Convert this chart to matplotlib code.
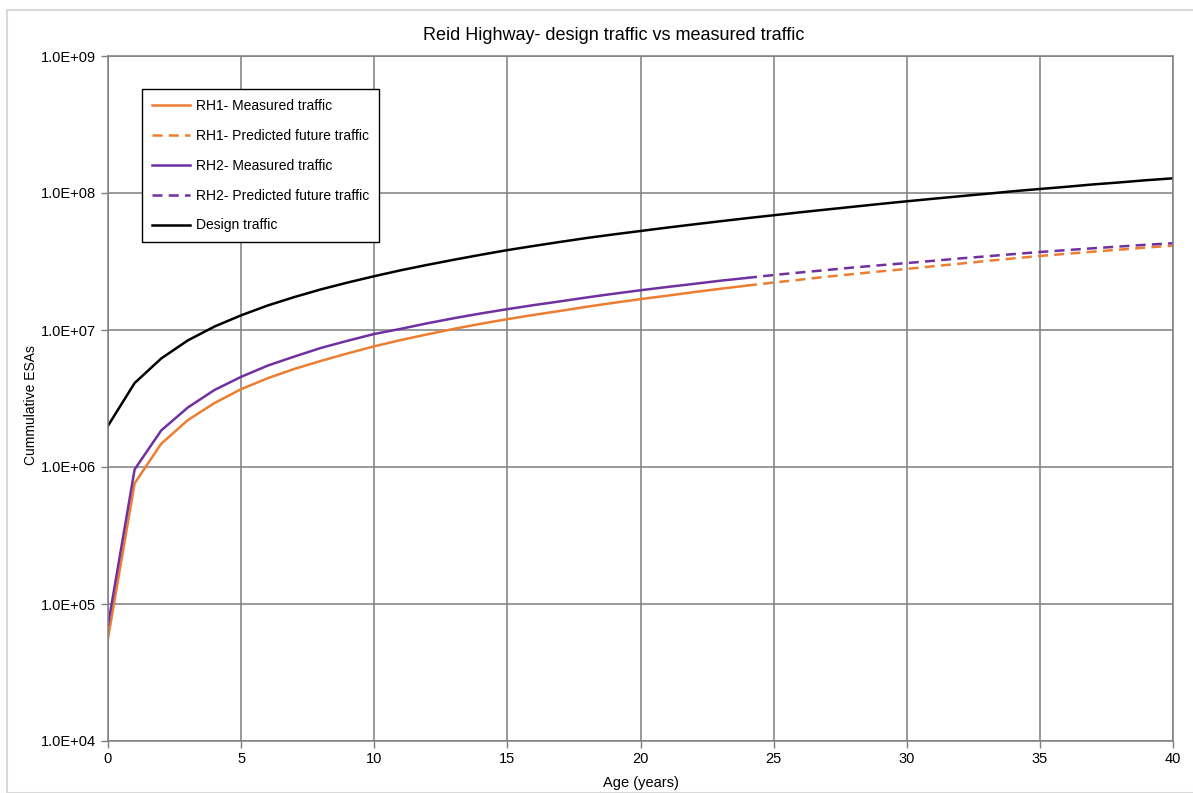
"""Reid Highway cumulative ESAs: design traffic vs measured / predicted traffic (log scale)."""
import matplotlib
matplotlib.use("Agg")
import matplotlib.pyplot as plt
from matplotlib.patches import Rectangle

ORANGE, PURPLE = "#ed7d31", "#7030a0"
GRID = "#7f7f7f"

# measured traffic, years 0..24
age_meas = list(range(0, 25))
rh1_meas = [5.6e4, 7.6e5, 1.48e6, 2.2e6, 2.93e6, 3.7e6, 4.45e6, 5.2e6, 5.95e6, 6.75e6,
            7.6e6, 8.45e6, 9.3e6, 1.02e7, 1.11e7, 1.2e7, 1.29e7, 1.38e7, 1.48e7, 1.58e7,
            1.68e7, 1.78e7, 1.89e7, 2.0e7, 2.11e7]
rh2_meas = [7.0e4, 9.6e5, 1.85e6, 2.72e6, 3.65e6, 4.55e6, 5.5e6, 6.4e6, 7.4e6, 8.35e6,
            9.35e6, 1.02e7, 1.12e7, 1.22e7, 1.32e7, 1.42e7, 1.52e7, 1.62e7, 1.73e7, 1.84e7,
            1.95e7, 2.06e7, 2.17e7, 2.29e7, 2.40e7]

# predicted future traffic, years 24..40
age_pred = list(range(24, 41))
rh1_pred = [2.11e7, 2.22e7, 2.33e7, 2.45e7, 2.56e7, 2.68e7, 2.79e7, 2.92e7, 3.05e7,
            3.19e7, 3.33e7, 3.47e7, 3.60e7, 3.73e7, 3.86e7, 4.0e7, 4.13e7]
rh2_pred = [2.40e7, 2.52e7, 2.63e7, 2.74e7, 2.86e7, 2.97e7, 3.08e7, 3.20e7, 3.33e7,
            3.45e7, 3.58e7, 3.71e7, 3.83e7, 3.95e7, 4.07e7, 4.19e7, 4.30e7]

# design traffic, years 0..40
age_design = list(range(0, 41))
design = [2.0e6, 4.1e6, 6.2e6, 8.4e6, 1.06e7, 1.28e7, 1.51e7, 1.74e7, 1.98e7, 2.22e7,
          2.47e7, 2.73e7, 2.99e7, 3.26e7, 3.54e7, 3.83e7, 4.11e7, 4.40e7, 4.70e7, 4.99e7,
          5.28e7, 5.59e7, 5.90e7, 6.22e7, 6.55e7, 6.88e7, 7.23e7, 7.58e7, 7.94e7, 8.32e7,
          8.70e7, 9.08e7, 9.47e7, 9.87e7, 1.03e8, 1.07e8, 1.11e8, 1.155e8, 1.195e8, 1.24e8,
          1.28e8]

y_ticks = [1e4, 1e5, 1e6, 1e7, 1e8, 1e9]
y_labels = ["1.0E+04", "1.0E+05", "1.0E+06", "1.0E+07", "1.0E+08", "1.0E+09"]
x_ticks = list(range(0, 41, 5))

plt.rcParams["font.family"] = ["Liberation Sans", "DejaVu Sans"]

fig = plt.figure(figsize=(11.93, 7.93), dpi=100)
fig.patches.append(Rectangle((7 / 1193, 0), 1, 1 - 10 / 793, transform=fig.transFigure,
                             fill=False, edgecolor="#d9d9d9", linewidth=1.5))
ax = fig.add_axes([108 / 1193, 52 / 793, 1065 / 1193, 685 / 793])

ax.plot(age_meas, rh1_meas, color=ORANGE, lw=1.8, label="RH1- Measured traffic")
ax.plot(age_pred, rh1_pred, color=ORANGE, lw=1.8, ls=(0, (4, 2.5)), label="RH1- Predicted future traffic")
ax.plot(age_meas, rh2_meas, color=PURPLE, lw=1.8, label="RH2- Measured traffic")
ax.plot(age_pred, rh2_pred, color=PURPLE, lw=1.8, ls=(0, (4, 2.5)), label="RH2- Predicted future traffic")
ax.plot(age_design, design, color="black", lw=1.8, label="Design traffic")

ax.set_yscale("log")
ax.set_ylim(1e4, 1e9); ax.set_xlim(0, 40)
ax.set_yticks(y_ticks); ax.set_yticklabels(y_labels)
ax.minorticks_off()
ax.set_xticks(x_ticks)
ax.tick_params(labelsize=10.5, color=GRID, length=5, width=1)
ax.tick_params(axis="x", pad=3)
ax.grid(True, color=GRID, lw=1.1)
ax.set_axisbelow(True)
for s in ax.spines.values():
    s.set_color(GRID); s.set_linewidth(1.1)

fig.text(614 / 1193, 1 - 35 / 793, "Reid Highway- design traffic vs measured traffic",
         fontsize=13, ha="center", va="center")
ax.set_xlabel("Age (years)", fontsize=10.5, labelpad=7)
ax.set_ylabel("Cummulative ESAs", fontsize=10)
ax.yaxis.set_label_coords(-0.066, 0.49)

leg = ax.legend(loc="upper left", bbox_to_anchor=(0.032, 0.952), borderaxespad=0,
                fontsize=10, fancybox=False, framealpha=1, edgecolor="black",
                handlelength=2.75, handletextpad=0.45, labelspacing=1.15, borderpad=0.7)
leg.get_frame().set_linewidth(1.0)

fig.savefig("out.png", dpi=100)
